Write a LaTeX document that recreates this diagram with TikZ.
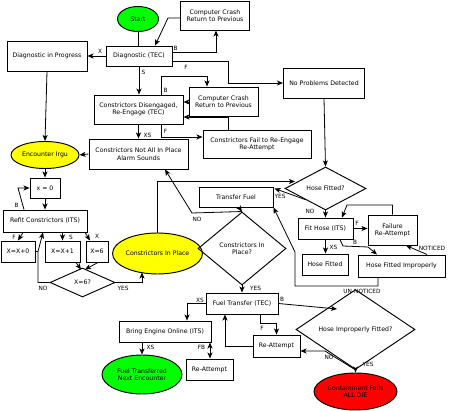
\documentclass[tikz,border=0pt]{standalone}
\usepackage{fontspec}
\setmainfont{DejaVu Sans}
\usetikzlibrary{shapes.geometric,arrows.meta}
\definecolor{cgreen}{RGB}{0,255,0}
\definecolor{cyellow}{RGB}{255,255,0}
\definecolor{cred}{RGB}{255,0,0}
\tikzset{
  base/.style={draw=black,line width=0.95pt,inner sep=0pt,align=center,font=\fontsize{6.2}{7.4}\selectfont},
  box/.style={base,rectangle},
  oval/.style={base,ellipse},
  dia/.style={base,diamond},
  arr/.style={line width=0.8pt,-{Stealth[length=6pt,width=5pt,inset=1.5pt]}},
  ln/.style={line width=0.8pt},
  lbl/.style={inner sep=0pt,font=\fontsize{5.8}{7}\selectfont}
}
\begin{document}
\begin{tikzpicture}[x=1pt,y=-1pt]
\useasboundingbox (0,0) rectangle (450,411);
% nodes
\node[oval,fill=cgreen,minimum width=41pt,minimum height=25pt] (start) at (138,19) {Start};
\node[box,minimum width=69pt,minimum height=29pt] (cc1) at (215,15.5) {Computer Crash\\Return to Previous};
\node[box,minimum width=80pt,minimum height=30pt] (dip) at (47,56) {Diagnostic in Progress};
\node[box,minimum width=66pt,minimum height=20pt] (diag) at (139,56) {Diagnostic (TEC)};
\node[box,minimum width=81pt,minimum height=30pt] (npd) at (324,83) {No Problems Detected};
\node[box,minimum width=89pt,minimum height=29pt] (cd) at (138.5,109.5) {Constrictors Disengaged,\\Re-Engage (TEC)};
\node[box,minimum width=69pt,minimum height=29pt] (cc2) at (223.5,101.5) {Computer Crash\\Return to Previous};
\node[box,minimum width=108pt,minimum height=28pt] (cfr) at (257,144) {Constrictors Fail to Re-Engage\\Re-Attempt};
\node[box,minimum width=99pt,minimum height=30pt] (cnaip) at (138.5,154) {Constrictors Not All In Place\\Alarm Sounds};
\node[oval,fill=cyellow,minimum width=68pt,minimum height=27pt] (enc) at (45,155) {Encounter Irgu};
\node[box,minimum width=30pt,minimum height=20pt] (x0) at (45,188) {x = 0};
\node[box,minimum width=84pt,minimum height=22pt] (refit) at (45,221) {Refit Constrictors (ITS)};
\node[box,minimum width=34pt,minimum height=21pt] (xx0) at (18,251.5) {X=X+0};
\node[box,minimum width=35pt,minimum height=21pt] (xx1) at (62.5,251.5) {X=X+1};
\node[box,minimum width=22pt,minimum height=21pt] (x6) at (97,251.5) {X=6};
\node[dia,minimum width=65pt,minimum height=29pt] (d6) at (82.5,282.5) {X=6?};
\node[oval,fill=cyellow,minimum width=81pt,minimum height=41pt] (cip) at (157.5,253.5) {Constrictors In Place};
\node[box,minimum width=74pt,minimum height=20pt] (tf) at (236,197) {Transfer Fuel};
\node[dia,minimum width=81pt,minimum height=43pt] (hf) at (325.5,188.5) {Hose Fitted?};
\node[dia,minimum width=88pt,minimum height=73pt] (cipq) at (242,248.5) {Constrictors In\\Place?};
\node[box,minimum width=72pt,minimum height=21pt] (ft) at (242,303.5) {Fuel Transfer (TEC)};
\node[box,minimum width=92pt,minimum height=21pt] (beo) at (165,331.5) {Bring Engine Online (ITS)};
\node[oval,fill=cgreen,minimum width=80pt,minimum height=39pt] (fte) at (142,374.5) {Fuel Transferred\\Next Encounter};
\node[box,minimum width=47pt,minimum height=21pt] (ra1) at (209.5,369.5) {Re-Attempt};
\node[box,minimum width=47pt,minimum height=22pt] (ra2) at (276.5,346) {Re-Attempt};
\node[dia,minimum width=119pt,minimum height=59pt] (hif) at (355.5,329.5) {Hose Improperly Fitted?};
\node[oval,fill=cred,minimum width=83pt,minimum height=37pt] (cf) at (355.5,391.5) {Containment Fails\\ALL DIE};
\node[box,minimum width=55pt,minimum height=21pt] (fh) at (325.5,228.5) {Fit Hose (ITS)};
\node[box,minimum width=49pt,minimum height=30pt] (fail) at (392.5,230) {Failure\\Re-Attempt};
\node[box,minimum width=46pt,minimum height=21pt] (hfit) at (325,264.5) {Hose Fitted};
\node[box,minimum width=87pt,minimum height=22pt] (hfi) at (401.5,266) {Hose Fitted Improperly};
% connectors
\draw[ln] (start.south) -- (start.south |- diag.north);
\draw[arr] (cc1.west |- 0,18) -- (168,18) -- (diag.north -| 155,0);
\draw[arr] (diag.east |- 0,52) -| (cc1.south -| 216,0);
\node[lbl] (lb1) at (175.5,48) {B};
\draw[arr] (diag.west) -- (dip.east);
\node[lbl] (lx1) at (100,51) {X};
\draw[arr] (diag.east |- 0,61) -- (228,61) |- (npd.west);
\node[lbl] (lf1) at (186,67) {F};
\draw[arr] (npd.south) -- (hf.north);
\draw[arr] (diag.south) -- (diag.south |- cd.north);
\node[lbl] (ls1) at (143.5,72) {S};
\draw[arr] (cd.north -| 161,0) -- (161,76) -| (cc2.north -| 207,0);
\node[lbl] (lb2) at (165.5,90) {B};
\draw[arr] (cc2.west |- 0,102) -- (cd.east |- 0,102);
\draw[arr] (cfr.north -| 228,0) |- (cd.east |- 0,117);
\draw[arr] (cd.south) -- (cd.south |- cnaip.north);
\node[lbl] (lxs1) at (147.5,135) {XS};
\draw[arr] (cd.south -| 161,0) |- (cfr.west |- 0,137);
\node[lbl] (lf2) at (165.5,131.5) {F};
\draw[arr] (cnaip.west) -- (enc.east);
\draw[arr] (dip.south) -- (enc.north);
\draw[arr] (enc.south) -- (x0.north);
\draw[arr] (x0.south) -- (refit.north);
\draw[arr] (refit.north -| 24,0) -- (18,188) -- (x0.west);
\node[lbl] (lb3) at (16.5,205.5) {B};
\draw[arr] (refit.south -| 23,0) -- (xx0.north);
\node[lbl] (lf3) at (14,237) {F};
\draw[ln] (xx0.east) -- (38,251.5);
\draw[arr] (d6.west) -- (38,282.5) -- (38,251.5) -- (refit.south -| 43,0);
\node[lbl] (lno1) at (43,288.5) {NO};
\draw[arr] (refit.south -| xx1.north) -- (xx1.north);
\node[lbl] (ls2) at (71,237) {S};
\draw[arr] (refit.south -| 85,0) -- (x6.north -| 90,0);
\node[lbl] (lx2) at (97,236) {X};
\draw[arr] (xx1.south -| 76,0) -- (81,269.5);
\draw[arr] (x6.south -| 98,0) -- (85,269.5);
\draw[arr] (d6.east) -| (142,272.5);
\node[lbl] (lyes1) at (123,288) {YES};
\draw[arr] (cip.north) |- (295,181.5);
\draw[arr] (hf.south west) -- (274.5,188.5);
\node[lbl] (lyes2) at (280,196.5) {YES};
\draw[arr] (cipq.north) -- (192,213) -- (cnaip.south -| 165,0);
\node[lbl] (lno2) at (197,219.5) {NO};
\draw[arr] (tf.south -| 239,0) -- (cipq.north);
\draw[arr] (hfi.south -| 378,0) -- (378,286) -| (295,252) -- (tf.south east);
\node[lbl] (lun) at (362,291.5) {UN-NOTICED};
\draw[arr] (cipq.south) -- (cipq.south |- ft.north);
\node[lbl] (lyes3) at (255.5,288.5) {YES};
\draw[arr] (ft.west) -| (beo.north -| 187,0);
\node[lbl] (lxs2) at (200,300) {XS};
\draw[arr] (beo.south -| 142,0) -- (fte.north -| 142,0);
\node[lbl] (lxs3) at (150.5,347) {XS};
\draw[line width=0.8pt,{Stealth[length=6pt,width=5pt,inset=1.5pt]}-{Stealth[length=6pt,width=5pt,inset=1.5pt]}] (beo.south -| 210,0) -- (ra1.north -| 210,0);
\node[lbl] (lfb) at (201.5,347) {FB};
\draw[arr] (ft.south -| 260,0) |- (276.5,323) -- (ra2.north);
\node[lbl] (lf4) at (262,328) {F};
\draw[arr] (ra2.west) -| (ft.south -| 225,0);
\draw[arr] (ft.east) -- (337,309);
\node[lbl] (lb4) at (282,299) {B};
\draw[arr] (hif.south) -- (325,351) -- (ra2.east |- 0,351);
\node[lbl] (lno3) at (329,357.5) {NO};
\draw[arr] (hif.south) -- (cf.north);
\node[lbl] (lyes4) at (368,364) {YES};
\draw[arr] (hf.south) -- (fh.north);
\node[lbl] (lno4) at (310,211.5) {NO};
\draw[arr] (fh.east) -- (fail.west |- fh.east);
\node[lbl] (lf5) at (357,223.5) {F};
\draw[arr] (fail.north) |- (347,205) -- (fh.north -| 342,0);
\draw[arr] (fh.south) -- (fh.south |- hfit.north);
\node[lbl] (lxs4) at (333.5,247.5) {XS};
\draw[arr] (fh.south -| 340,0) -- (343,246) -- (368,247) -- (hfi.north -| 377,0);
\node[lbl] (lb5) at (355,242.5) {B};
\draw[arr] (hfi.north -| 427,0) -- (fail.south -| 406,0);
\node[lbl] (lnot) at (432,248.5) {NOTICED};
\end{tikzpicture}
\end{document}
